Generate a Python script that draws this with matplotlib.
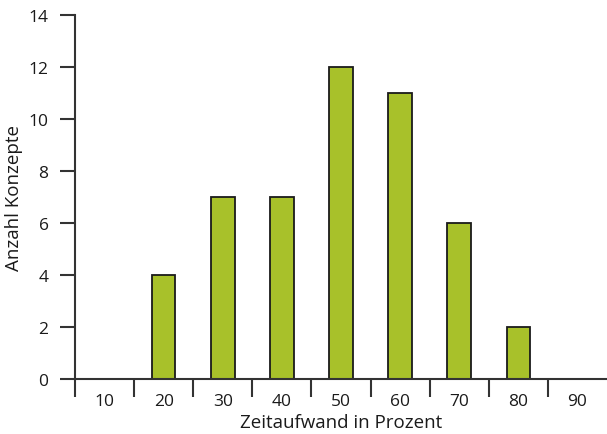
import matplotlib
matplotlib.use('Agg')
import matplotlib.pyplot as plt
import numpy as np

# data
categories = ['10', '20', '30', '40', '50', '60', '70', '80', '90']
counts = [0, 4, 7, 7, 12, 11, 6, 2, 0]

plt.rcParams['font.family'] = ['Open Sans', 'DejaVu Sans']

fig = plt.figure(figsize=(6.07, 4.35), dpi=100)
ax = fig.add_axes([75 / 607, 1 - 380 / 435, 532 / 607, 364 / 435])

x = np.arange(len(categories))
ax.bar(x, counts, width=0.4, color='#a8c12a', edgecolor='#1a1a1a', linewidth=1.3)

ax.set_xlim(-0.5, len(categories) - 0.5)
ax.set_ylim(0, 14)
ax.set_yticks(range(0, 15, 2))

# boundary ticks between categories, labels at the centers
ax.set_xticks(np.arange(-0.5, len(categories) - 1, 1.0))
ax.set_xticklabels([])
ax.set_xticks(x, minor=True)
ax.set_xticklabels(categories, minor=True)
ax.tick_params(axis='x', which='major', length=13, width=1.5, color='#333333', direction='out')
ax.tick_params(axis='x', which='minor', length=0, pad=10, labelsize=12.5, labelcolor='#1a1a1a')
ax.tick_params(axis='y', length=11, width=1.5, color='#333333', pad=8, labelsize=12.5, labelcolor='#1a1a1a')

for side in ['top', 'right']:
    ax.spines[side].set_visible(False)
for side in ['left', 'bottom']:
    ax.spines[side].set_linewidth(1.5)
    ax.spines[side].set_color('#333333')

ax.set_xlabel('Zeitaufwand in Prozent', fontsize=13.5, labelpad=3, color='#1a1a1a')
ax.set_ylabel('Anzahl Konzepte', fontsize=13.5, labelpad=4, color='#1a1a1a')

fig.savefig('out.png', dpi=100)
